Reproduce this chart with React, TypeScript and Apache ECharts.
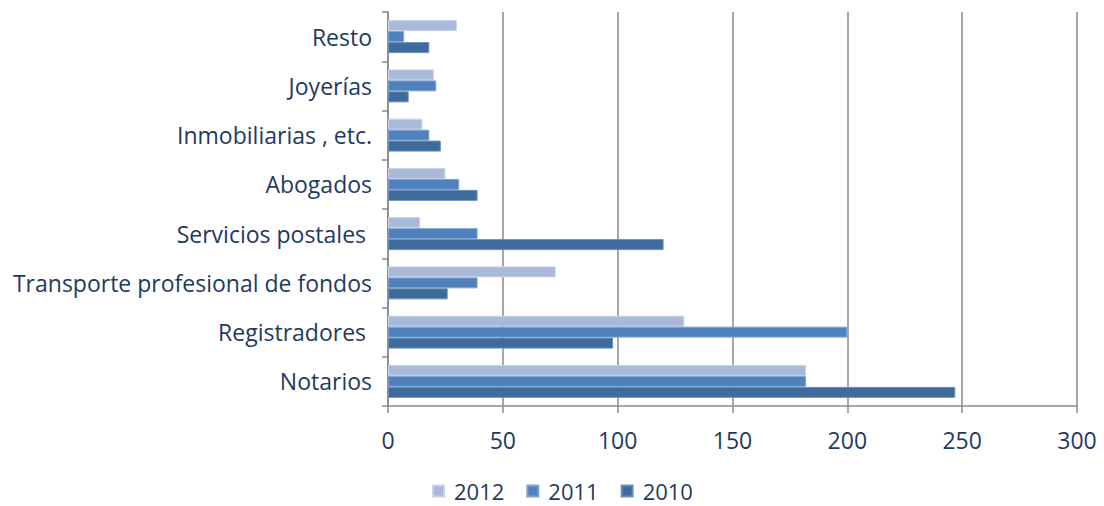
import React, { useEffect, useRef } from "react";
import * as echarts from "echarts";

const categories = [
  "Notarios",
  "Registradores ",
  "Transporte profesional de fondos",
  "Servicios postales ",
  "Abogados",
  "Inmobiliarias , etc.",
  "Joyerías",
  "Resto",
];
const values2012 = [182, 129, 73, 14, 25, 15, 20, 30];
const values2011 = [182, 200, 39, 39, 31, 18, 21, 7];
const values2010 = [247, 98, 26, 120, 39, 23, 9, 18];
const seriesNames = ["2012", "2011", "2010"];
const xTicks = { min: 0, max: 300, interval: 50 };

const TEXT = "#1F3A5F";
const GRID = "#8A8A8A";
const FONT = "Open Sans";

export default function App() {
  const ref = useRef<HTMLDivElement>(null);
  useEffect(() => {
    if (!ref.current) return;
    const chart = echarts.init(ref.current, null, { renderer: "svg" });
    const colors = ["#A9B9D8", "#4F81BD", "#3E6A9C"];
    const borders = ["#C9D4E8", "#7FA3D0", "#6D8FB8"];
    const data = [values2012, values2011, values2010];
    chart.setOption({
      animation: false,
      textStyle: { fontFamily: FONT },
      grid: { left: 388, right: 27, top: 12, bottom: 100, containLabel: false },
      legend: {
        left: 432,
        top: 480,
        padding: 0,
        itemWidth: 11,
        itemHeight: 11,
        itemGap: 22,
        icon: "rect",
        data: seriesNames,
        textStyle: { fontSize: 22, lineHeight: 22, color: TEXT, fontFamily: FONT, padding: [0, 0, 0, 5] },
      },
      xAxis: {
        type: "value",
        min: xTicks.min,
        max: xTicks.max,
        interval: xTicks.interval,
        axisLine: { show: true, lineStyle: { color: GRID, width: 1.5 } },
        axisTick: { show: true, length: 7, lineStyle: { color: GRID, width: 1.5 } },
        splitLine: { show: true, lineStyle: { color: GRID, width: 1.5 } },
        axisLabel: { color: TEXT, fontSize: 23, fontFamily: FONT, margin: 22 },
      },
      yAxis: {
        type: "category",
        data: categories,
        axisLine: { show: true, lineStyle: { color: GRID, width: 1.5 } },
        axisTick: { show: true, length: 6, lineStyle: { color: GRID, width: 1.5 } },
        axisLabel: { color: TEXT, fontSize: 23, fontFamily: FONT, margin: 16 },
      },
      series: seriesNames.map((name, i) => ({
        name,
        type: "bar",
        data: data[i],
        barGap: "0%",
        barCategoryGap: "33%",
        itemStyle: { color: colors[i], borderColor: borders[i], borderWidth: 1 },
      })),
    });
    return () => chart.dispose();
  }, []);
  return (
    <div
      ref={ref}
      style={{ position: "absolute", left: 0, top: 0, width: 1104, height: 506 }}
    />
  );
}
